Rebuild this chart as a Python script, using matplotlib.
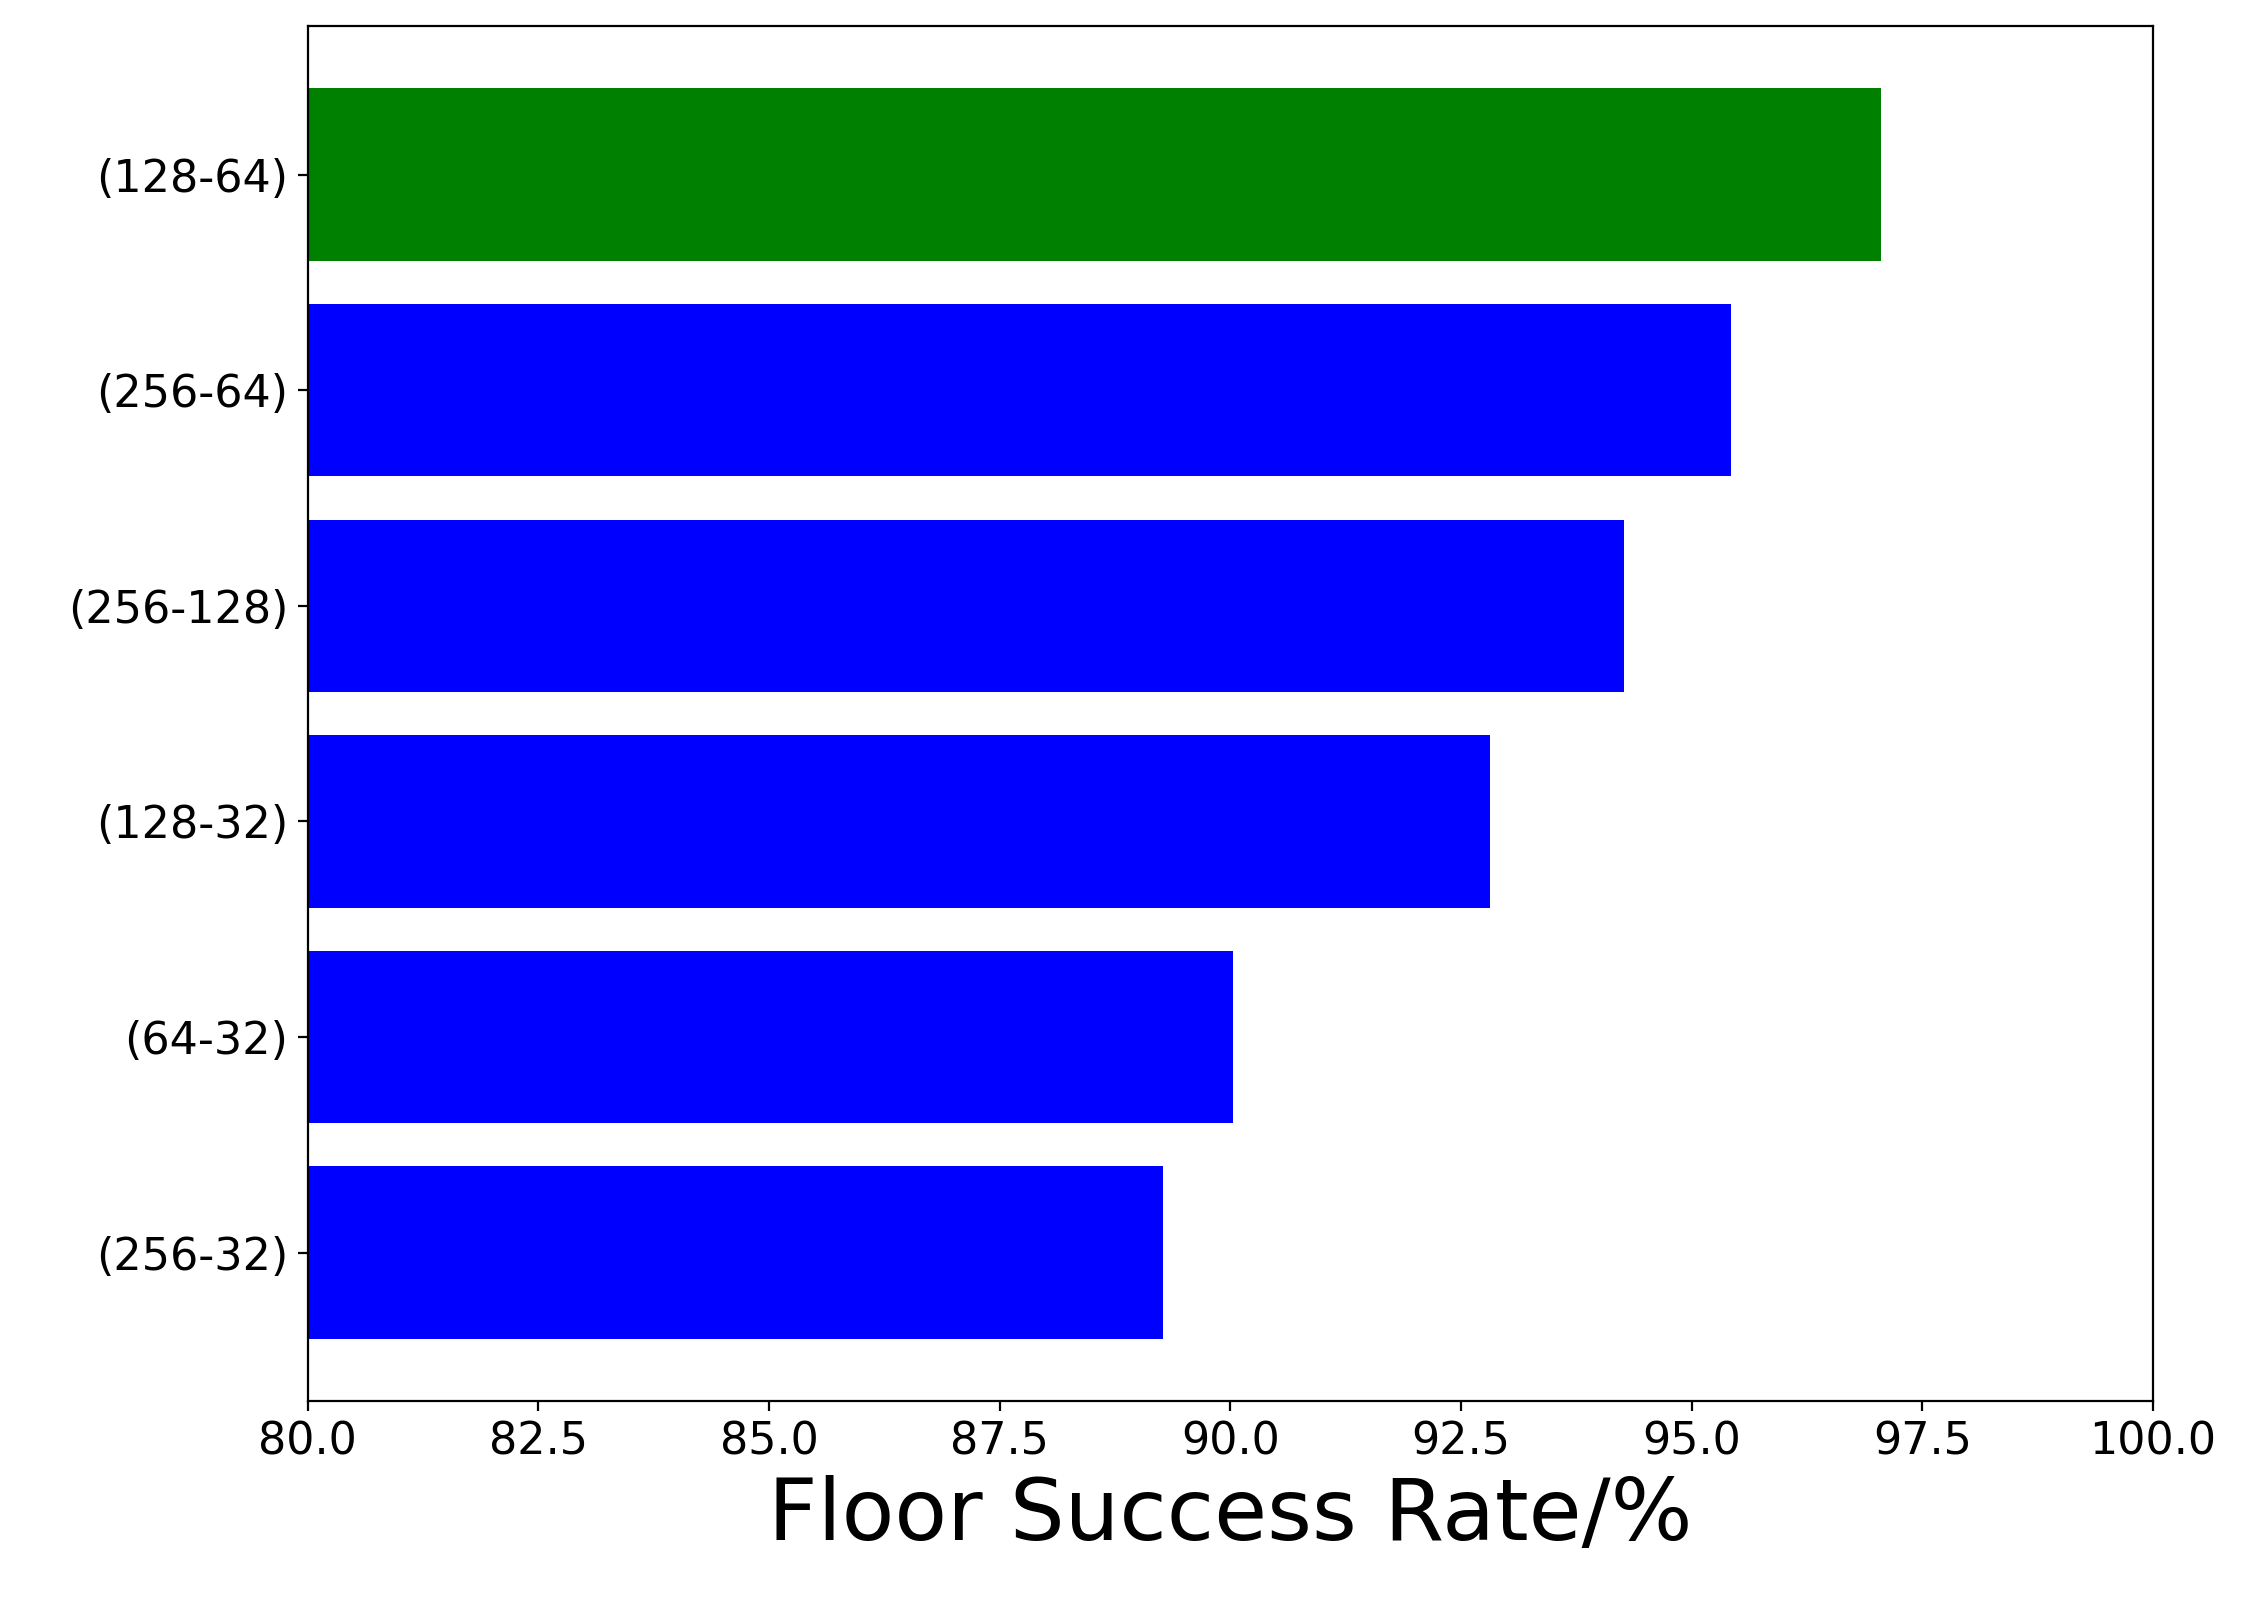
import matplotlib
matplotlib.use("Agg")
import matplotlib.pyplot as plt

labels = ["(256-32)", "(64-32)", "(128-32)", "(256-128)", "(256-64)", "(128-64)"]
rates = [89.27, 90.03, 92.81, 94.27, 95.43, 97.05]
colors = ["blue", "blue", "blue", "blue", "blue", "green"]

fig, ax = plt.subplots(figsize=(11.23, 8.045), dpi=200)
fig.subplots_adjust(left=0.137, right=0.9586, top=0.984, bottom=0.129)

ax.barh(labels, rates, color=colors, height=0.8)
ax.set_xlim(80, 100)
ax.set_xticks([80, 82.5, 85, 87.5, 90, 92.5, 95, 97.5, 100])
ax.set_xticklabels(["80.0", "82.5", "85.0", "87.5", "90.0", "92.5", "95.0", "97.5", "100.0"])
ax.tick_params(labelsize=16)
ax.set_xlabel("Floor Success Rate/%", fontsize=31)

fig.savefig("out.png", dpi=200)
